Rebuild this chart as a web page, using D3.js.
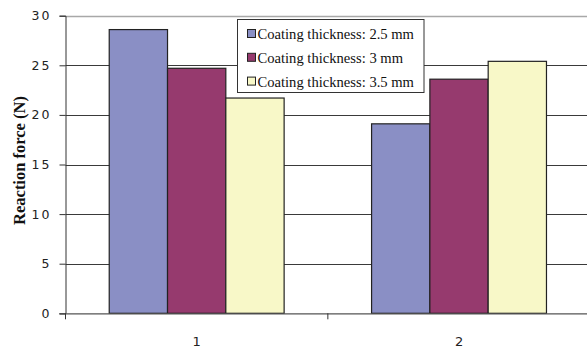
<!DOCTYPE html>
<html>
<head>
<meta charset="utf-8">
<script src="https://cdn.jsdelivr.net/npm/d3@7"></script>
<style>
  html, body { margin: 0; padding: 0; background: #fff; }
  svg { display: block; }
</style>
</head>
<body>
<svg id="chart" width="587" height="352"></svg>
<script>
// Reaction force per case, for three coating thicknesses
const categories = ["1", "2"];
const seriesNames = ["Coating thickness: 2.5 mm", "Coating thickness: 3 mm", "Coating thickness: 3.5 mm"];
const series25 = [28.6, 19.1];
const series30 = [24.7, 23.6];
const series35 = [21.7, 25.4];
const seriesColors = ["#8a8fc5", "#963a6e", "#f8f8c8"];
const yTicks = [0, 5, 10, 15, 20, 25, 30];
const yTitle = "Reaction force (N)";

const seriesValues = [series25, series30, series35];

const svg = d3.select("#chart");
const margin = { left: 65.5, right: -3.2, top: 15.7, bottom: 38.7 };
const W = 587, H = 352;
const x0 = margin.left, x1 = W - margin.right;
const yTop = margin.top, yBot = H - margin.bottom;

const x = d3.scaleBand().domain(categories).range([x0, x1]).padding(0);
// three bars fill 2/3 of each category, gap of 1.5 bar widths
const xi = d3.scaleBand().domain(d3.range(seriesNames.length))
  .range([0, x.bandwidth()]).paddingOuter(0.75).paddingInner(0);
const y = d3.scaleLinear().domain([0, 30]).range([yBot, yTop]);

// horizontal gridlines
svg.append("g").selectAll("line").data(yTicks.filter(d => d > 0)).join("line")
  .attr("x1", x0).attr("x2", W)
  .attr("y1", d => Math.round(y(d)) + 0.5).attr("y2", d => Math.round(y(d)) + 0.5)
  .attr("stroke", d => d === 30 ? "#a8a8a8" : "#3a3a3a")
  .attr("stroke-width", d => d === 30 ? 1.5 : 1);

// bars
const groups = svg.append("g").selectAll("g").data(categories).join("g")
  .attr("transform", c => `translate(${x(c)},0)`);
groups.selectAll("rect")
  .data((c, ci) => seriesValues.map((vals, si) => ({ si, v: vals[ci] })))
  .join("rect")
  .attr("x", d => xi(d.si))
  .attr("width", xi.bandwidth())
  .attr("y", d => y(d.v))
  .attr("height", d => y(0) - y(d.v))
  .attr("fill", d => seriesColors[d.si])
  .attr("stroke", "#222")
  .attr("stroke-width", 1.2);

// y axis
const yAxis = d3.axisLeft(y).tickValues(yTicks).tickSize(6).tickPadding(8).tickFormat(d3.format("d"));
const gy = svg.append("g").attr("transform", `translate(${x0},0)`).call(yAxis);
gy.select(".domain").attr("stroke", "#333");
gy.selectAll(".tick line").attr("stroke", "#333");
gy.selectAll(".tick text")
  .attr("font-family", "DejaVu Sans, sans-serif")
  .attr("font-size", 12.5)
  .attr("letter-spacing", "2px")
  .attr("fill", "#222");

// x axis: ticks at category boundaries
const gx = svg.append("g").attr("transform", `translate(0,${yBot})`);
gx.append("line").attr("x1", x0 - 6).attr("x2", W).attr("y1", 0.5).attr("y2", 0.5)
  .attr("stroke", "#555").attr("stroke-width", 1.3);
gx.selectAll("line.tk").data([x0, x(categories[1])]).join("line").attr("class", "tk")
  .attr("x1", d => d).attr("x2", d => d).attr("y1", 0).attr("y2", 6)
  .attr("stroke", "#333");
gx.selectAll("text").data(categories).join("text")
  .attr("x", c => x(c) + x.bandwidth() / 2)
  .attr("y", 33)
  .attr("text-anchor", "middle")
  .attr("font-family", "DejaVu Sans, sans-serif")
  .attr("font-size", 13)
  .attr("fill", "#222")
  .text(c => c);

// y axis title
svg.append("text")
  .attr("transform", `translate(24.5,160.5) rotate(-90)`)
  .attr("text-anchor", "middle")
  .attr("font-family", "Liberation Serif, Times New Roman, serif")
  .attr("font-weight", "bold")
  .attr("font-size", 16.5)
  .attr("fill", "#111")
  .text(yTitle);

// legend
const lg = svg.append("g");
lg.append("rect").attr("x", 237.5).attr("y", 19.5).attr("width", 186.5).attr("height", 73)
  .attr("fill", "#fff").attr("stroke", "#333").attr("stroke-width", 1);
const items = lg.selectAll("g.item").data(seriesNames).join("g").attr("class", "item")
  .attr("transform", (d, i) => `translate(0,${34 + i * 23.8})`);
items.append("rect").attr("x", 247.5).attr("y", -4.5).attr("width", 8).attr("height", 8)
  .attr("fill", (d, i) => seriesColors[i]).attr("stroke", "#222").attr("stroke-width", 1);
items.append("text").attr("x", 257.5).attr("y", 5)
  .attr("font-family", "Liberation Serif, Times New Roman, serif")
  .attr("font-size", 14.6)
  .attr("fill", "#111")
  .text(d => d);
</script>
</body>
</html>
